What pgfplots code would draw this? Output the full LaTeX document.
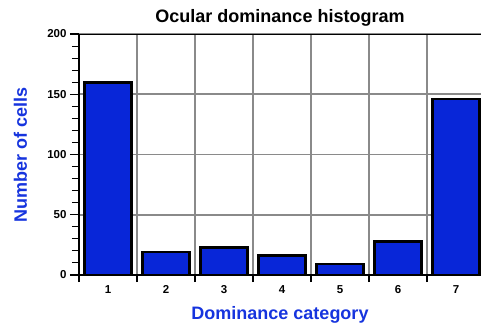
\documentclass[border=0pt]{standalone}
\usepackage{pgfplots}
\pgfplotsset{compat=1.18}
\usepackage{fontspec}
\setmainfont{Liberation Sans}
\definecolor{barblue}{RGB}{8,38,216}
\definecolor{labblue}{RGB}{22,52,222}
\definecolor{gridgray}{RGB}{138,138,138}
\begin{document}
\begin{tikzpicture}
\begin{axis}[
  at={(0,0)}, anchor=south west,
  scale only axis, width=402pt, height=241pt,
  xmin=0.5, xmax=7.43, ymin=0, ymax=200,
  axis lines=left,
  axis line style={-, line width=2pt, black},
  ybar, bar width=47pt,
  xtick={1,...,7},
  major x tick style={draw=none},
  minor xtick={0.5,1.5,...,6.5},
  minor x tick style={line width=1.3pt, black},
  xminorgrids=true, ymajorgrids=true, xmajorgrids=false, yminorgrids=false,
  ytick={0,50,...,200}, minor y tick num=4,
  major y tick style={line width=1.3pt, black},
  minor y tick style={line width=1pt, black},
  tick align=outside,
  major tick length=9pt, minor tick length=7pt,
  grid style={gridgray, line width=1.9pt, solid},
  major grid style={gridgray, line width=1.9pt, solid},
  minor grid style={gridgray, line width=1.9pt, solid},
  /pgf/number format/assume math mode=true,
  ticklabel style={font=\fontsize{11.5}{13}\selectfont\bfseries},
  xticklabel style={yshift=2pt},
  title={Ocular dominance histogram},
  title style={font=\fontsize{18}{20}\selectfont\bfseries, at={(axis description cs:0.5,1)}, anchor=base, yshift=6pt},
  xlabel={Dominance category},
  xlabel style={font=\fontsize{18}{20}\selectfont\bfseries, text=labblue, at={(axis description cs:0.5,0)}, anchor=base, yshift=-44pt},
  ylabel={Number of cells},
  ylabel style={font=\fontsize{18}{20}\selectfont\bfseries, text=labblue, at={(axis description cs:-0.1294,0.5)}, anchor=base, rotate=0},
]
\addplot[fill=barblue, draw=black, line width=2.6pt] coordinates {(1,160) (2,19) (3,23) (4,16) (5,9) (6,28) (7,146)};
\draw[black, line width=2pt] (rel axis cs:0,1) -- (rel axis cs:1,1);
\end{axis}
\pgfresetboundingbox
\path[use as bounding box] (-79pt,-49pt) rectangle (402pt,275pt);
\end{tikzpicture}
\end{document}
